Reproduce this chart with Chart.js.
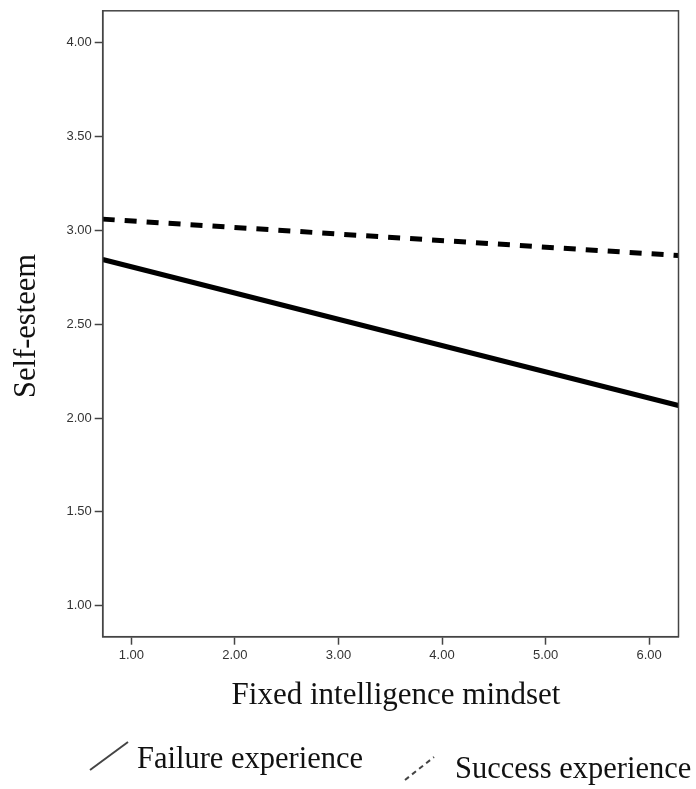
<!DOCTYPE html>
<html>
<head>
<meta charset="utf-8">
<script src="https://cdn.jsdelivr.net/npm/chart.js@4.4.1/dist/chart.umd.min.js"></script>
<style>
  body { margin: 0; background: #fff; }
  canvas { display: block; }
</style>
</head>
<body>
<canvas id="chart" width="696" height="789"></canvas>
<script>
'use strict';

// x range of the fitted lines (axis ends)
var xEnds = [0.723, 6.284];
var failureValues = [2.845, 2.067];
var successValues = [3.06, 2.866];
var seriesLabels = ['Failure experience', 'Success experience'];
var xTitle = 'Fixed intelligence mindset';
var yTitle = 'Self-esteem';
var yRange = [0.835, 4.17];

var serif = '"Liberation Serif", "Times New Roman", serif';

function points(vals) {
  return xEnds.map(function(x, i) { return { x: x, y: vals[i] }; });
}

// titles, frame and the little diagonal legend
var extras = {
  id: 'extras',
  afterDraw: function(chart) {
    var ctx = chart.ctx;
    var a = chart.chartArea;
    ctx.save();
    ctx.strokeStyle = '#444';
    ctx.lineWidth = 1.5;
    ctx.strokeRect(a.left, a.top, a.right - a.left, a.bottom - a.top);

    ctx.fillStyle = '#111';
    ctx.textAlign = 'center';
    ctx.textBaseline = 'alphabetic';
    ctx.font = '31px ' + serif;
    ctx.fillText(xTitle, 396, 704);

    ctx.save();
    ctx.font = '30.5px ' + serif;
    ctx.translate(35, 326);
    ctx.rotate(-Math.PI / 2);
    ctx.fillText(yTitle, 0, 0);
    ctx.restore();

    // legend
    ctx.font = '30.5px ' + serif;
    ctx.textAlign = 'left';
    ctx.strokeStyle = '#444';
    ctx.lineWidth = 2;
    ctx.beginPath();
    ctx.moveTo(90, 770);
    ctx.lineTo(128, 742);
    ctx.stroke();
    ctx.fillText(chart.data.datasets[0].label, 137, 768);

    ctx.setLineDash([5, 4]);
    ctx.beginPath();
    ctx.moveTo(405, 780);
    ctx.lineTo(434, 757);
    ctx.stroke();
    ctx.setLineDash([]);
    ctx.fillText(chart.data.datasets[1].label, 455, 778);
    ctx.restore();
  }
};

var tickFont = { family: '"Liberation Sans", Arial, sans-serif', size: 13 };

var chart = new Chart(document.getElementById('chart').getContext('2d'), {
  type: 'line',
  data: {
    datasets: [{
      label: seriesLabels[0],
      data: points(failureValues),
      borderColor: '#000',
      borderWidth: 5,
      pointRadius: 0,
      tension: 0
    }, {
      label: seriesLabels[1],
      data: points(successValues),
      borderColor: '#000',
      borderWidth: 5,
      borderDash: [12, 10],
      borderCapStyle: 'butt',
      pointRadius: 0,
      tension: 0
    }]
  },
  options: {
    responsive: false,
    animation: false,
    layout: { padding: { left: 0, top: 8, right: 17.5, bottom: 0 } },
    plugins: { legend: { display: false }, tooltip: { enabled: false } },
    scales: {
      x: {
        type: 'linear',
        min: xEnds[0],
        max: xEnds[1],
        afterFit: function(s) { s.height = 152.3; },
        border: { color: '#444', width: 1.5 },
        grid: { drawOnChartArea: false, tickLength: 8, tickColor: '#444', tickWidth: 1.5 },
        ticks: {
          stepSize: 1,
          includeBounds: false,
          autoSkip: false,
          maxRotation: 0,
          padding: 3,
          color: '#333',
          font: tickFont,
          callback: function(v) { return Number(v).toFixed(2); }
        }
      },
      y: {
        min: yRange[0],
        max: yRange[1],
        afterFit: function(s) { s.width = 102.7; },
        border: { color: '#444', width: 1.5 },
        grid: { drawOnChartArea: false, tickLength: 8, tickColor: '#444', tickWidth: 1.5 },
        ticks: {
          stepSize: 0.5,
          includeBounds: false,
          padding: 3,
          color: '#333',
          font: tickFont,
          callback: function(v) { return Number(v).toFixed(2); }
        }
      }
    }
  },
  plugins: [extras]
});
</script>
</body>
</html>
